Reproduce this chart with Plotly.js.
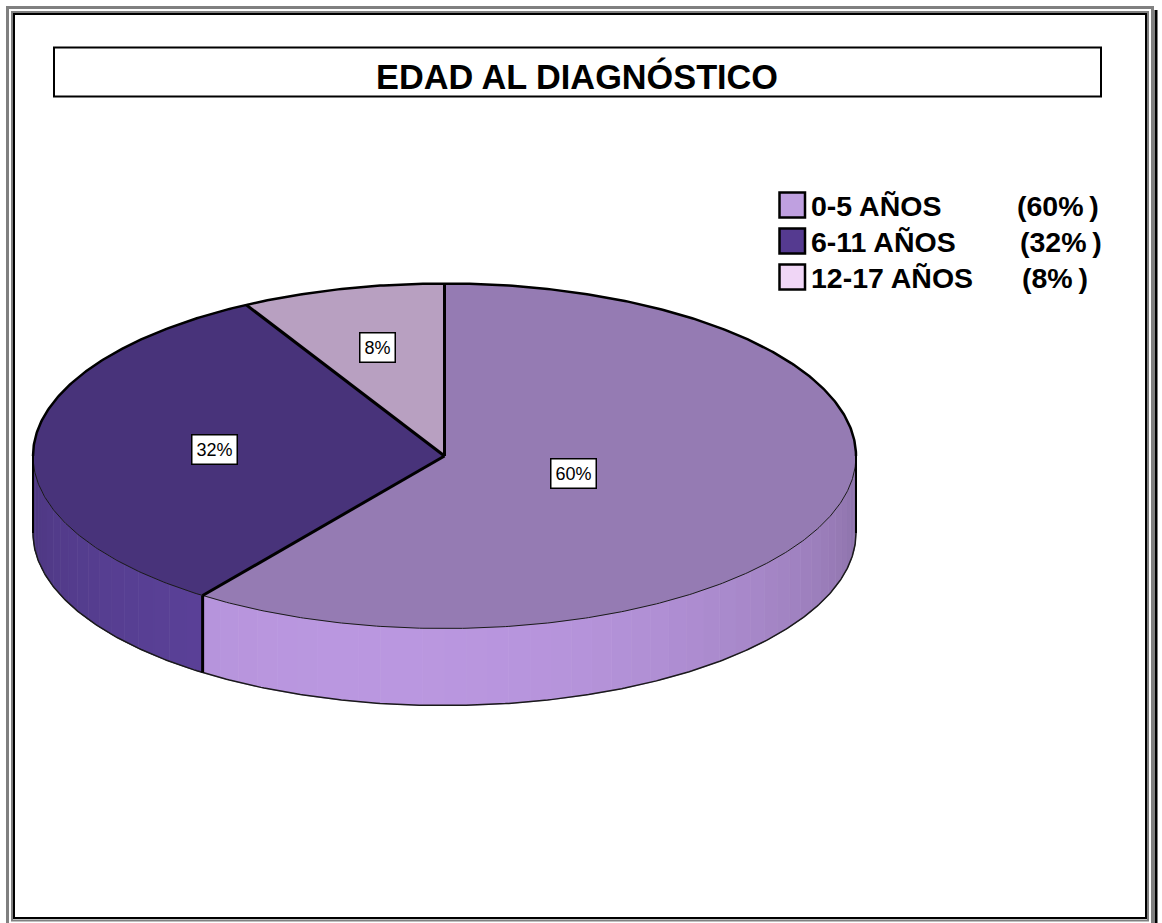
<!DOCTYPE html>
<html>
<head>
<meta charset="utf-8">
<script src="https://cdn.plot.ly/plotly-3.0.1.min.js"></script>
<style>html,body{margin:0;padding:0;background:#fff;}#chart{width:1162px;height:923px;}</style>
</head>
<body>
<div id="chart"></div>
<script>
// ---- data ----
const categories = ['0-5 AÑOS', '6-11 AÑOS', '12-17 AÑOS'];
const values = [60, 32, 8];
const chartTitle = 'EDAD AL DIAGNÓSTICO';

// ---- styles / geometry (pixel space) ----
const topColors = ['#957BB3', '#48337A', '#B8A0C1'];
const sideBase = [[186, 151, 224], [92, 66, 155], [230, 205, 238]];
const legendColors = ['#BFA0E0', '#553A90', '#F0D6F6'];
const labelRadius = [0.33, 0.56, 0.65];
const legendPctX = [1015, 1018, 1020];
const CX = 444.5, CY = 456, RX = 411.5, RY = 172.5, DEPTH = 77;
const FONT = 'Liberation Sans, Arial, sans-serif';

function pt(deg, dy) {
  const r = deg * Math.PI / 180;
  return [CX + RX * Math.sin(r), CY - RY * Math.cos(r) + (dy || 0)];
}
function arc(a0, a1, dy, step) {
  const xs = [], ys = [];
  const n = Math.max(1, Math.ceil(Math.abs(a1 - a0) / (step || 1)));
  for (let i = 0; i <= n; i++) {
    const p = pt(a0 + (a1 - a0) * i / n, dy);
    xs.push(p[0]); ys.push(p[1]);
  }
  return [xs, ys];
}

const total = values.reduce((a, b) => a + b, 0);
const starts = [], ends = [];
let acc = 0;
values.forEach(v => { starts.push(acc / total * 360); acc += v; ends.push(acc / total * 360); });

const traces = [];
// side walls (front half: 90..270)
values.forEach((v, i) => {
  const a0 = Math.max(starts[i], 90), a1 = Math.min(ends[i], 270);
  if (a1 <= a0) return;
  const step = 3;
  for (let a = a0; a < a1 - 1e-9; a += step) {
    const b = Math.min(a + step, a1);
    const mid = (a + b) / 2;
    const f = 0.78 + 0.22 * Math.cos((mid - 190) * Math.PI / 180);
    const c = sideBase[i].map(k => Math.round(Math.min(255, k * f)));
    const col = 'rgb(' + c.join(',') + ')';
    const t = arc(a, b, 0, 1), bt = arc(b, a, DEPTH, 1);
    traces.push({type: 'scatter', mode: 'lines', x: t[0].concat(bt[0]), y: t[1].concat(bt[1]),
      fill: 'toself', fillcolor: col, line: {color: col, width: 1}, hoverinfo: 'skip'});
  }
});
// top faces
values.forEach((v, i) => {
  const t = arc(starts[i], ends[i], 0, 0.5);
  traces.push({type: 'scatter', mode: 'lines', x: [CX].concat(t[0]), y: [CY].concat(t[1]),
    fill: 'toself', fillcolor: topColors[i], line: {color: topColors[i], width: 0.5}, hoverinfo: 'skip'});
});
// outlines
function line(xs, ys, w, col) {
  traces.push({type: 'scatter', mode: 'lines', x: xs, y: ys, line: {color: col || '#000', width: w}, hoverinfo: 'skip'});
}
let r = arc(-90, 90, 0, 0.5); line(r[0], r[1], 2.5);
r = arc(90, 270, 0, 0.5); line(r[0], r[1], 1, '#1a1a1a');
r = arc(90, 270, DEPTH, 0.5); line(r[0], r[1], 1.5, '#1a1a1a');
[90, 270].forEach(a => { const p = pt(a); line([p[0], p[0]], [p[1], p[1] + DEPTH], 2); });
starts.forEach(a => {
  const p = pt(a);
  line([CX, p[0]], [CY, p[1]], 3);
  if (a > 90 && a < 270) line([p[0], p[0]], [p[1], p[1] + DEPTH], 3);
});

// labels
const annotations = [];
values.forEach((v, i) => {
  const mid = (starts[i] + ends[i]) / 2;
  const rad = mid * Math.PI / 180;
  annotations.push({x: CX + RX * labelRadius[i] * Math.sin(rad), y: CY - RY * labelRadius[i] * Math.cos(rad),
    xref: 'x', yref: 'y', text: v + '%', showarrow: false,
    font: {family: FONT, size: 18, color: '#000'}, bgcolor: '#fff', bordercolor: '#000', borderwidth: 1.5, borderpad: 4});
});
// title
annotations.push({x: 577, y: 76, xref: 'x', yref: 'y', text: chartTitle, showarrow: false,
  font: {family: FONT, size: 34.3, color: '#000', weight: 'bold'}});

const shapes = [
  {type: 'rect', xref: 'x', yref: 'y', x0: 7.5, y0: 7.5, x1: 1152.5, y1: 940, line: {color: '#808080', width: 3}},
  {type: 'line', xref: 'x', yref: 'y', x0: 1156, y0: 10, x1: 1156, y1: 930, line: {color: '#000', width: 3}},
  {type: 'rect', xref: 'x', yref: 'y', x0: 12, y0: 12, x1: 1148, y1: 920.5, line: {color: '#808080', width: 2}},
  {type: 'rect', xref: 'x', yref: 'y', x0: 14, y0: 14, x1: 1146, y1: 918, line: {color: '#000', width: 2}},
  {type: 'rect', xref: 'x', yref: 'y', x0: 54, y0: 47.5, x1: 1101, y1: 96.5, line: {color: '#000', width: 2}}
];
// legend
categories.forEach((c, i) => {
  const yc = 205 + i * 36;
  shapes.push({type: 'rect', xref: 'x', yref: 'y', x0: 779.5, x1: 805, y0: yc - 12.5, y1: yc + 12.5,
    fillcolor: legendColors[i], line: {color: '#000', width: 2.5}});
  annotations.push({x: 809, y: yc + 1, xref: 'x', yref: 'y', xanchor: 'left', yanchor: 'middle', text: c,
    showarrow: false, font: {family: FONT, size: 28.5, color: '#000', weight: 'bold'}});
  annotations.push({x: legendPctX[i], y: yc + 1, xref: 'x', yref: 'y', xanchor: 'left', yanchor: 'middle',
    text: '(' + values[i] + '%\u2009)', showarrow: false, font: {family: FONT, size: 28.5, color: '#000', weight: 'bold'}});
});

const ax = {visible: false, showgrid: false, zeroline: false, fixedrange: true};
const layout = {
  width: 1162, height: 923, margin: {l: 0, r: 0, t: 0, b: 0},
  paper_bgcolor: '#fff', plot_bgcolor: '#fff', showlegend: false, hovermode: false,
  xaxis: Object.assign({}, ax, {range: [0, 1162]}),
  yaxis: Object.assign({}, ax, {range: [923, 0]}),
  shapes: shapes, annotations: annotations
};
Plotly.newPlot('chart', traces, layout, {staticPlot: true, displayModeBar: false});
</script>
</body>
</html>
